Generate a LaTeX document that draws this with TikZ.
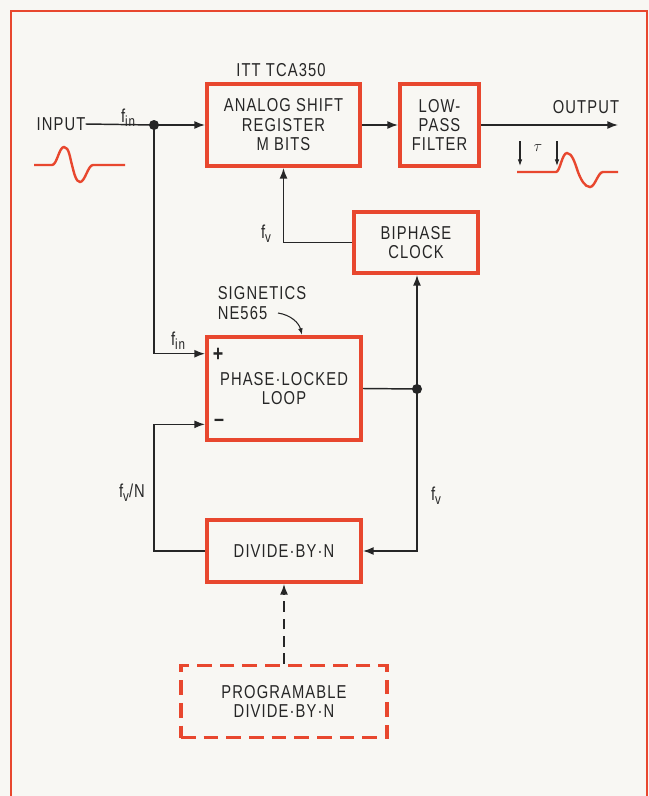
\documentclass[tikz,border=0pt]{standalone}
\usepackage{fontspec}
\setmainfont{Liberation Sans}[FakeStretch=0.79,LetterSpace=6]
\usetikzlibrary{arrows.meta,calc}
\definecolor{frameRed}{HTML}{E8472E}
\definecolor{paper}{HTML}{F8F7F3}
\definecolor{ink}{HTML}{262626}
\newcommand\lowsub[1]{\raisebox{-0.45ex}{\fontsize{11}{11}\selectfont #1}}
\tikzset{
  blk/.style={draw=frameRed,line width=3pt,inner sep=0pt,align=center,text=ink},
  dblk/.style={blk,line width=2.3pt,dash pattern=on 11pt off 6pt},
  lbl/.style={inner sep=0pt,text=ink,align=center},
  wire/.style={draw=ink,line width=1.1pt},
  arr/.style={wire,-{Latex[length=8pt,width=6pt]}},
  sarr/.style={wire,line width=0.8pt,-{Latex[length=5pt,width=3.5pt]}},
  wave/.style={draw=frameRed,line width=1.8pt},
  dot/.style={circle,fill=ink,inner sep=0pt,minimum size=7.5pt},
}
\begin{document}
\begin{tikzpicture}[x=0.75pt,y=-0.75pt,every node/.append style={font=\fontsize{14}{14.6}\selectfont}]
\useasboundingbox (0,0) rectangle (649,796);
\fill[paper] (0,0) rectangle (649,796);
% frame
\draw[frameRed,line width=2.2pt] (11,796) -- (11,11) -- (647,11) -- (647,796);

% blocks
\node[blk,minimum width=114.75pt,minimum height=61.5pt] (asr) at (283.5,125) {ANALOG SHIFT\\REGISTER\\M BITS};
\node[blk,minimum width=59.25pt,minimum height=61.5pt] (lpf) at (439.5,125) {LOW-\\PASS\\FILTER};
\node[blk,minimum width=93pt,minimum height=45.75pt] (bip) at (416,242.5) {BIPHASE\\CLOCK};
\node[blk,minimum width=115.5pt,minimum height=77.25pt] (pll) at (284,388.5) {PHASE·LOCKED\\LOOP};
\node[blk,minimum width=115.5pt,minimum height=46.5pt] (div) at (284,551) {DIVIDE·BY·N};
\node[dblk,minimum width=154.5pt,minimum height=54pt] (prog) at (284,701.5) {PROGRAMABLE\\DIVIDE·BY·N};

% labels
\node[lbl] (inp) at (61,124) {INPUT};
\node[lbl] (itt) at (281,70) {ITT TCA350};
\node[lbl] (outl) at (586,107) {OUTPUT};
\node[lbl] (fin1) at (128,118) {f\lowsub{in}};
\node[lbl] (fv1) at (266,234) {f\lowsub{v}};
\node[lbl,align=left] (sig) at (262,303) {SIGNETICS\\NE565};
\node[lbl] (fin2) at (178,341) {f\lowsub{in}};
\node[lbl,font=\fontsize{17}{17}\selectfont\bfseries] (plus) at (218,355) {+};
\node[lbl,font=\fontsize{17}{17}\selectfont\bfseries] (minus) at (219,423) {–};
\node[lbl] (fvn) at (132,493) {f\lowsub{v}/N};
\node[lbl] (fv2) at (436,496) {f\lowsub{v}};
\node[lbl,font=\fontsize{12}{12}\selectfont\itshape] (tau) at (538,148) {$\tau$};

% junctions
\node[dot] (j1) at (154,125) {};
\node[dot] (j2) at (417,389) {};
\coordinate (pllp) at ($(pll.north west)!0.175!(pll.south west)$);
\coordinate (pllm) at ($(pll.north west)!0.835!(pll.south west)$);
\coordinate (outend) at (618,125);

% connectors
\draw[wire] (inp.east) -- (j1.center);
\draw[arr] (j1.center) -- (asr.west);
\draw[arr] (asr.east) -- (lpf.west);
\draw[arr] (lpf.east) -- (outend);
\draw[arr] (bip.west) -| (asr.south);
\draw[arr] (j1.center) |- (pllp);
\draw[wire] (pll.east) -- (j2.center);
\draw[arr] (j2.center) -- (j2 |- bip.south);
\draw[arr] (j2.center) |- (div.east);
\draw[arr] (div.west) -- (div.west -| j1) |- (pllm);
\draw[arr,dashed,dash pattern=on 8pt off 5pt] (prog.north) -- (div.south);
\coordinate (sigend) at (278,313);
\draw[sarr] (sigend) .. controls (291,315) and (299,323) .. (pll.north -| 302,0);

% waveforms
\draw[wave] (34,165) -- (52,165) .. controls (57,165) and (59,147) .. (64,147)
  .. controls (69,147) and (70,158) .. (72,165)
  .. controls (74,173) and (76,182) .. (80,182)
  .. controls (85,182) and (88,165) .. (93,165) -- (125,165);
\draw[wave] (517,172) -- (556,172) .. controls (560,172) and (562,153) .. (567,153)
  .. controls (572,153) and (575,163) .. (578,172)
  .. controls (581,180) and (585,187) .. (590,187)
  .. controls (595,187) and (598,172) .. (603,172) -- (618,172);
\coordinate (t1a) at (520,141);
\coordinate (t1b) at (520,166);
\coordinate (t2a) at (557,141);
\coordinate (t2b) at (557,166);
\draw[sarr] (t1a) -- (t1b);
\draw[sarr] (t2a) -- (t2b);
\end{tikzpicture}
\end{document}
